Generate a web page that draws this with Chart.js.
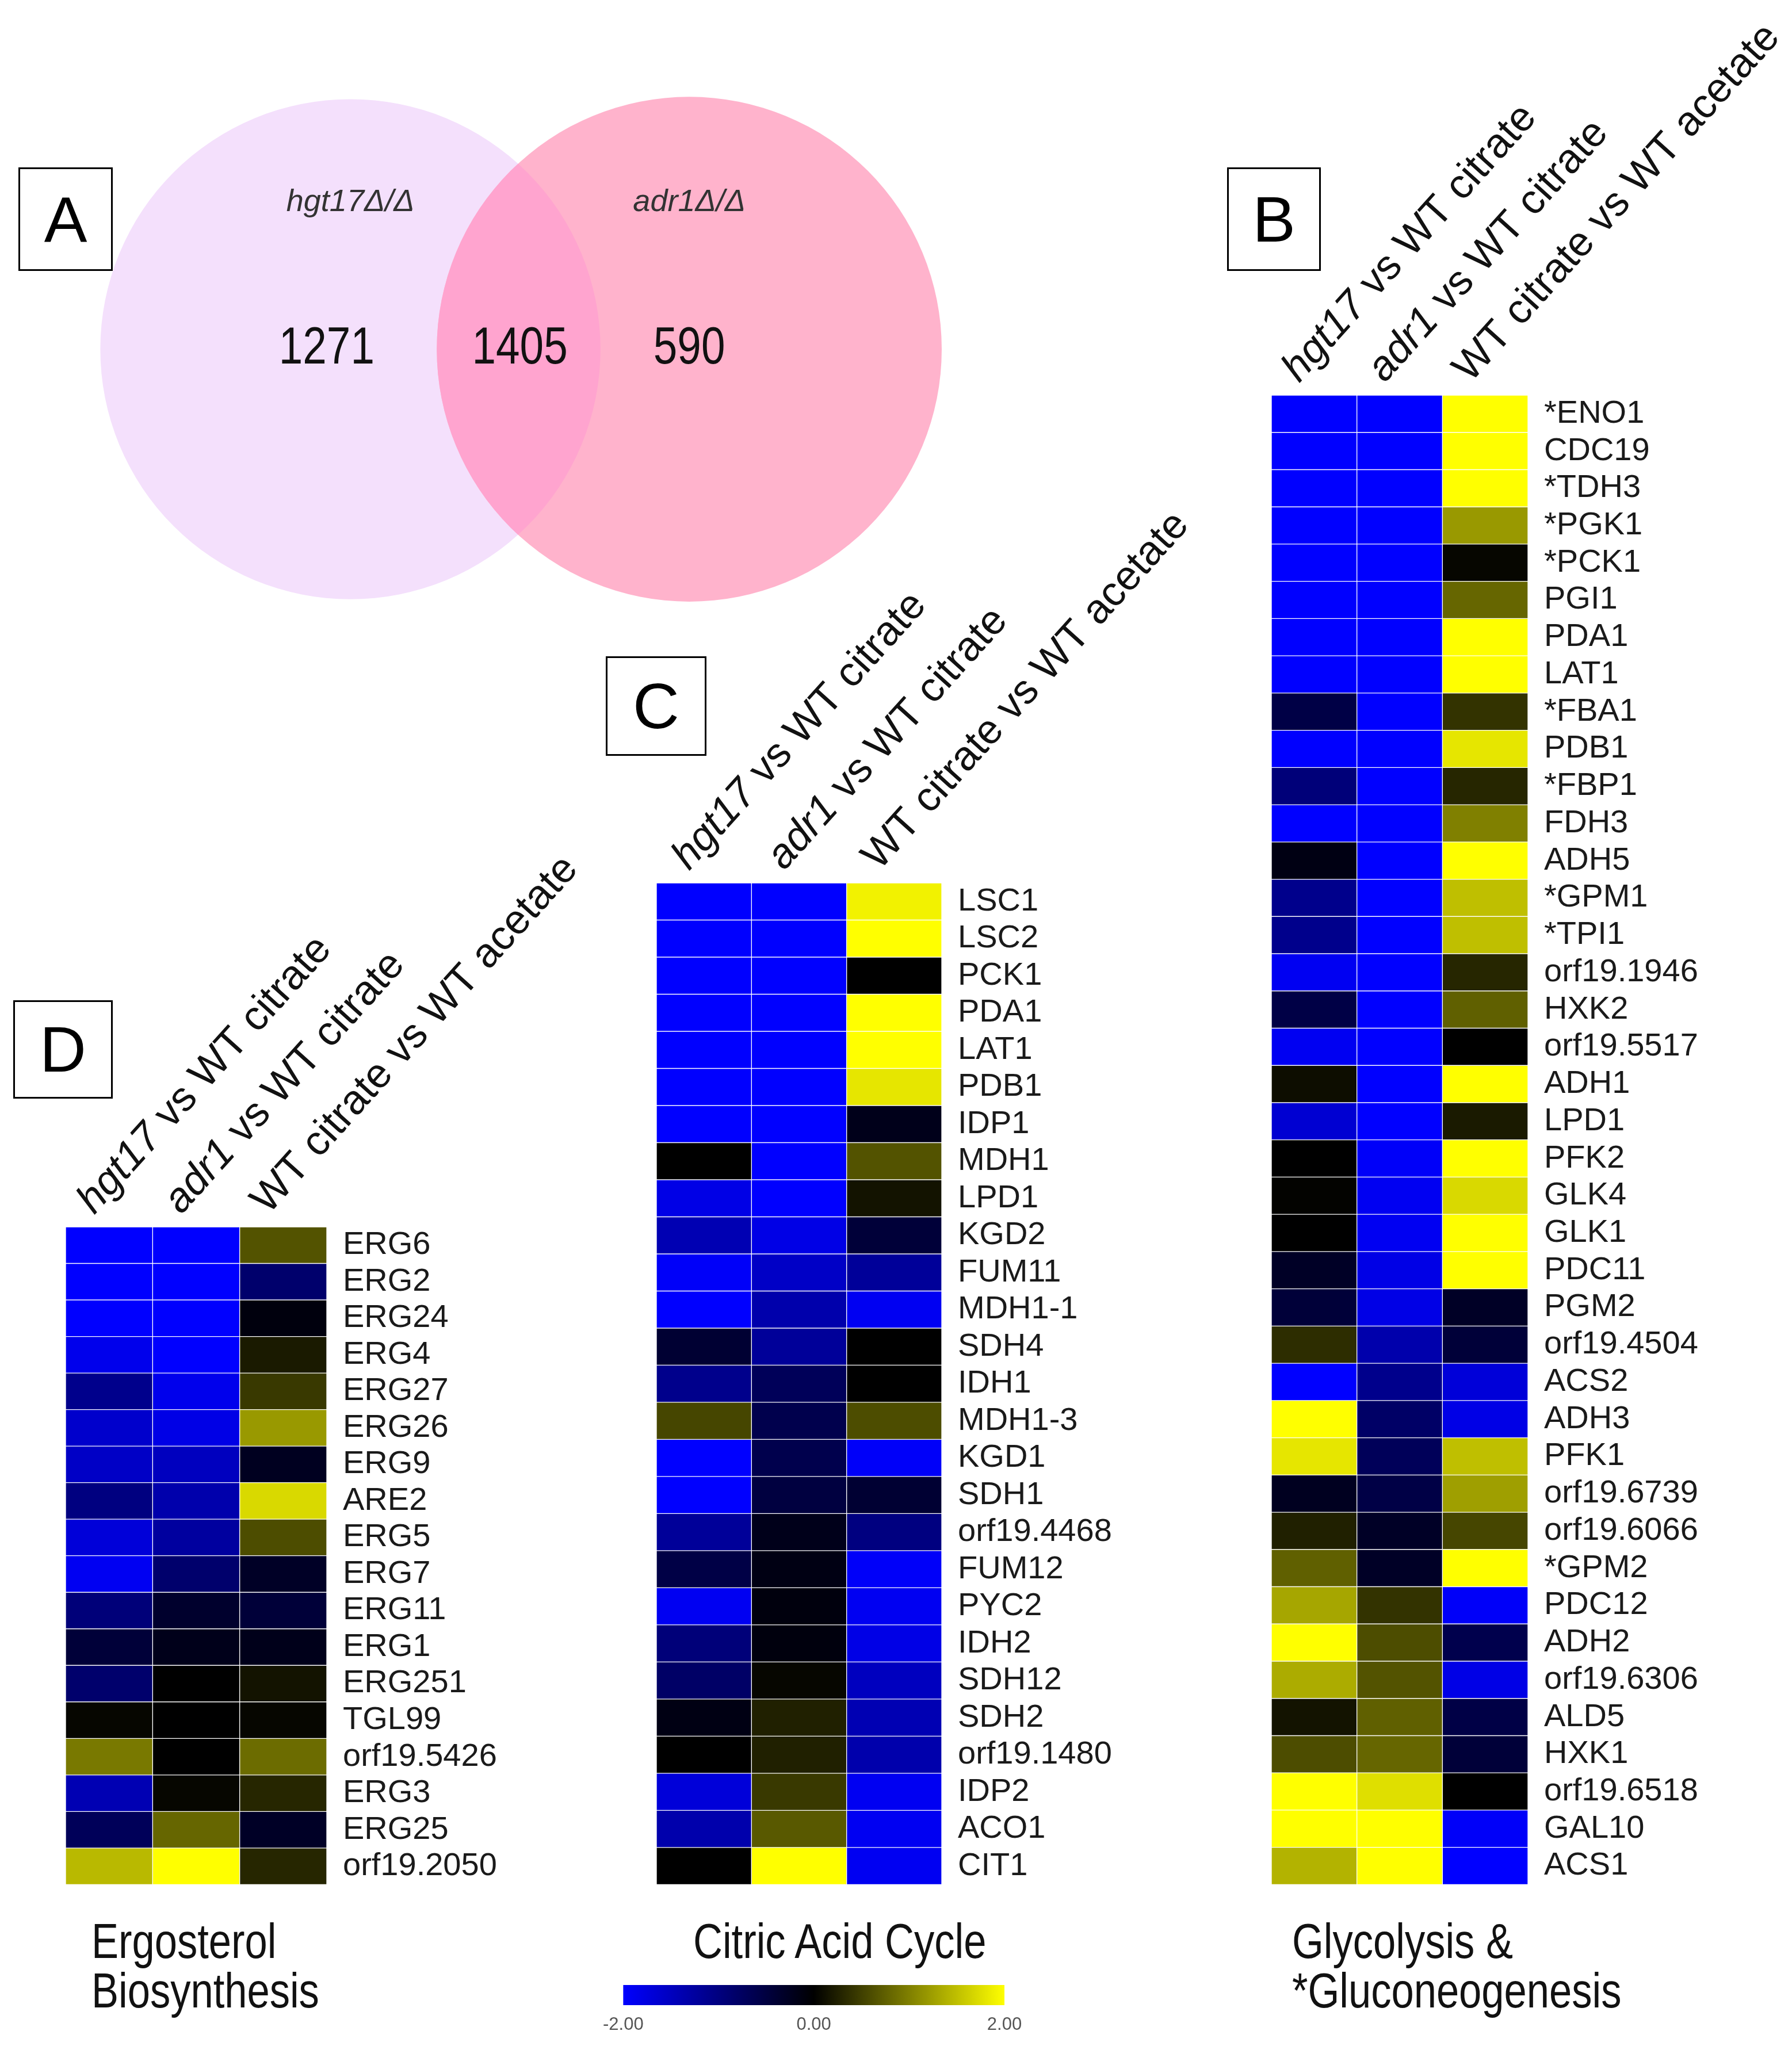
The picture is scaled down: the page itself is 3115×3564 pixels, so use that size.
<!DOCTYPE html>
<html lang="en">
<head>
<meta charset="UTF-8">
<title>Venn diagram and expression heatmaps</title>
<script src="https://cdn.jsdelivr.net/npm/chart.js@4"></script>
<style>
  body { margin:0; background:#fff; width:3115px; height:3564px; position:relative; overflow:hidden;
         font-family:"Liberation Sans", Arial, sans-serif; }
  canvas { position:absolute; }
  .tag { position:absolute; border:3px solid #000; background:#fff; font-size:112px; color:#000;
         display:flex; align-items:center; justify-content:center; box-sizing:border-box; }
  .title { position:absolute; font-size:86px; line-height:86px; white-space:nowrap; color:#111;
           transform:scaleX(0.82); transform-origin:left top; }
</style>
</head>
<body>

<canvas id="venn" style="left:0;top:0" width="1700" height="1100"></canvas>
<canvas id="ergChart" style="left:90px;top:1400px" width="960" height="1930"></canvas>
<canvas id="citChart" style="left:1120px;top:800px" width="1000" height="2530"></canvas>
<canvas id="glyChart" style="left:2190px;top:0" width="925" height="3330"></canvas>
<canvas id="scaleBar" style="left:1040px;top:3420px" width="760" height="140"></canvas>

<div class="tag" style="left:32px;top:291px;width:164px;height:180px">A</div>
<div class="tag" style="left:2133px;top:291px;width:163px;height:180px">B</div>
<div class="tag" style="left:1053px;top:1141px;width:175px;height:173px">C</div>
<div class="tag" style="left:23px;top:1739px;width:173px;height:171px">D</div>

<div class="title" style="left:159px;top:3331px">Ergosterol<br>Biosynthesis</div>
<div class="title" style="left:1151px;top:3331px;width:600px;text-align:center;transform-origin:center top">Citric Acid Cycle</div>
<div class="title" style="left:2246px;top:3331px">Glycolysis &amp;<br>*Gluconeogenesis</div>

<script>
const FONT = '"Liberation Sans", Arial, sans-serif';

// Venn (A)
const vennSets = ['hgt17Δ/Δ', 'adr1Δ/Δ'];
const vennCounts = [1271, 1405, 590];
const vennCenters = [0, 1];
const vennRadius = [0.738, 0.745];

// column headers shared by B, C, D
const colItalic = ['hgt17', 'adr1', ''];
const colRest = [' vs WT citrate', ' vs WT citrate', 'WT citrate vs WT acetate'];

// B - glycolysis & gluconeogenesis
const glyGenes = ['*ENO1','CDC19','*TDH3','*PGK1','*PCK1','PGI1','PDA1','LAT1','*FBA1','PDB1',
  '*FBP1','FDH3','ADH5','*GPM1','*TPI1','orf19.1946','HXK2','orf19.5517','ADH1','LPD1',
  'PFK2','GLK4','GLK1','PDC11','PGM2','orf19.4504','ACS2','ADH3','PFK1','orf19.6739',
  'orf19.6066','*GPM2','PDC12','ADH2','orf19.6306','ALD5','HXK1','orf19.6518','GAL10','ACS1'];
const glyHgt17 = [-2,-2,-2,-2,-2,-2,-2,-2,-0.55,-2, -0.95,-2,-0.15,-1.1,-1.1,-1.9,-0.55,-1.9,0.1,-1.65,
  0,0.02,0,-0.3,-0.45,0.35,-2,2,1.8,-0.25, 0.25,0.75,1.3,2,1.35,0.15,0.6,2,2,1.4];
const glyAdr1 = [-2,-2,-2,-2,-2,-2,-2,-2,-2,-2, -2,-2,-2,-2,-2,-2,-2,-2,-2,-2,
  -1.95,-1.9,-1.9,-1.8,-1.8,-1.35,-1.1,-0.8,-0.7,-0.55, -0.3,-0.3,0.4,0.6,0.65,0.75,0.8,1.75,2,2];
const glyWT = [2,2,2,1.2,0.05,0.8,2,2,0.4,1.8, 0.3,1.0,2,1.5,1.5,0.3,0.75,0,2,0.2,
  2,1.7,2,2,-0.3,-0.45,-1.7,-1.8,1.5,1.25, 0.55,2,-1.95,-0.6,-1.8,-0.55,-0.45,0,-1.95,-2];

// C - citric acid cycle
const citGenes = ['LSC1','LSC2','PCK1','PDA1','LAT1','PDB1','IDP1','MDH1','LPD1','KGD2',
  'FUM11','MDH1-1','SDH4','IDH1','MDH1-3','KGD1','SDH1','orf19.4468','FUM12','PYC2',
  'IDH2','SDH12','SDH2','orf19.1480','IDP2','ACO1','CIT1'];
const citHgt17 = [-2,-2,-2,-2,-2,-2,-2,0,-1.8,-1.4, -1.95,-2,-0.4,-1.1,0.55,-2,-2,-1.2,-0.55,-1.9,
  -0.95,-0.8,-0.15,0,-1.7,-1.35,0];
const citAdr1 = [-2,-2,-2,-2,-2,-2,-2,-2,-2,-1.8, -1.55,-1.35,-1.2,-0.7,-0.6,-0.6,-0.5,-0.2,-0.15,-0.1,
  -0.1,0.05,0.25,0.25,0.45,0.7,2];
const citWT = [1.9,2,0,2,2,1.8,-0.2,0.65,0.15,-0.45, -1.2,-1.9,0,0,0.6,-1.95,-0.4,-1.0,-1.95,-1.9,
  -1.8,-1.5,-1.4,-1.35,-1.9,-1.9,-1.9];

// D - ergosterol biosynthesis
const ergGenes = ['ERG6','ERG2','ERG24','ERG4','ERG27','ERG26','ERG9','ARE2','ERG5','ERG7',
  'ERG11','ERG1','ERG251','TGL99','orf19.5426','ERG3','ERG25','orf19.2050'];
const ergHgt17 = [-2,-2,-2,-1.85,-1.1,-1.6,-1.55,-1.0,-1.7,-1.9, -0.95,-0.45,-0.85,0.05,0.95,-1.4,-0.7,1.45];
const ergAdr1 = [-2,-2,-2,-2,-1.85,-1.8,-1.5,-1.35,-1.25,-0.85, -0.35,-0.2,0,0,0,0.05,0.8,2];
const ergWT = [0.65,-0.85,-0.1,0.2,0.45,1.2,-0.25,1.7,0.6,-0.3, -0.45,-0.2,0.15,0.05,0.85,0.3,-0.3,0.3];

// colour key
const scaleMin = -2, scaleMax = 2;
const scaleTicks = [-2, 0, 2];

// blue - black - yellow
function heatColor(v) {
  const t = Math.max(-1, Math.min(1, v / scaleMax));
  const k = Math.round(Math.abs(t) * 255);
  return t < 0 ? `rgb(0,0,${k})` : `rgb(${k},${k},0)`;
}

// ---------- Venn ----------
const vennOverlay = {
  id: 'vennOverlay',
  afterDatasetsDraw(chart) {
    const { ctx, scales: { x, y } } = chart;
    const px = v => x.getPixelForValue(v), py = v => y.getPixelForValue(v);
    const r0 = px(vennRadius[0]) - px(0), r1 = px(vennRadius[1]) - px(0);
    // overlap region
    ctx.save();
    ctx.beginPath(); ctx.arc(px(vennCenters[0]), py(0), r0, 0, Math.PI * 2); ctx.clip();
    ctx.beginPath(); ctx.arc(px(vennCenters[1]), py(0), r1, 0, Math.PI * 2);
    ctx.fillStyle = '#ffa4cf'; ctx.fill();
    ctx.restore();

    ctx.save();
    ctx.textAlign = 'center'; ctx.textBaseline = 'middle';
    ctx.fillStyle = '#333';
    ctx.font = `italic 54px ${FONT}`;
    vennSets.forEach((s, i) => ctx.fillText(s, px(vennCenters[i]), py(0.433)));
    ctx.fillStyle = '#111';
    ctx.font = `90px ${FONT}`;
    const countX = [-0.07, 0.5, 1.0];
    vennCounts.forEach((n, i) => {
      ctx.save();
      ctx.translate(px(countX[i]), py(0));
      ctx.scale(0.83, 1);
      ctx.fillText(String(n), 0, 0);
      ctx.restore();
    });
    ctx.restore();
  }
};

new Chart(document.getElementById('venn'), {
  type: 'scatter',
  data: {
    datasets: [{
      data: vennCenters.map(c => ({ x: c, y: 0 })),
      pointBackgroundColor: ['#f4e0fc', '#ffb3cc'],
      pointBorderWidth: 0,
      pointRadius: ctx => {
        const s = ctx.chart.scales.x;
        return Math.abs(s.getPixelForValue(vennRadius[ctx.dataIndex]) - s.getPixelForValue(0)) || 0;
      },
      showLine: false,
      clip: false
    }]
  },
  options: {
    responsive: false, animation: false,
    layout: { autoPadding: false, padding: 0 },
    plugins: { legend: { display: false }, tooltip: { enabled: false } },
    scales: {
      x: { type: 'linear', min: -1.034, max: 1.852, display: false },
      y: { type: 'linear', min: -0.837, max: 1.031, display: false }
    }
  },
  plugins: [vennOverlay]
});

// ---------- heatmaps ----------
const HEAD_ANGLE = 48;
const colHeads = {
  id: 'colHeads',
  afterDraw(chart) {
    const { ctx, chartArea, scales: { x } } = chart;
    ctx.save();
    ctx.fillStyle = '#111';
    ctx.textAlign = 'left'; ctx.textBaseline = 'alphabetic';
    colItalic.forEach((it, c) => {
      ctx.save();
      ctx.translate(x.getPixelForValue(c + 0.5) - 26, chartArea.top - 20);
      ctx.rotate(-HEAD_ANGLE * Math.PI / 180);
      let off = 0;
      if (it) {
        ctx.font = `italic 72px ${FONT}`;
        ctx.fillText(it, 0, 0);
        off = ctx.measureText(it).width;
      }
      ctx.font = `72px ${FONT}`;
      ctx.fillText(colRest[c], off, 0);
      ctx.restore();
    });
    ctx.restore();
  }
};

function heatmap(id, genes, cols, pad, axisW) {
  new Chart(document.getElementById(id), {
    type: 'bar',
    data: {
      labels: genes,
      datasets: cols.map(vals => ({
        data: genes.map(() => 1),
        backgroundColor: vals.map(heatColor),
        borderColor: 'rgba(255,255,255,0.08)',
        borderWidth: 1,
        borderSkipped: false,
        barPercentage: 1,
        categoryPercentage: 1
      }))
    },
    options: {
      indexAxis: 'y', responsive: false, animation: false,
      layout: { padding: pad },
      plugins: { legend: { display: false }, tooltip: { enabled: false } },
      scales: {
        x: { type: 'linear', stacked: true, min: 0, max: 3, display: false },
        y: {
          stacked: true, position: 'right',
          grid: { display: false }, border: { display: false },
          ticks: { autoSkip: false, color: '#1a1a1a', padding: 20, font: { family: FONT, size: 56 } },
          afterFit(s) { s.width = axisW; }
        }
      }
    },
    plugins: [colHeads]
  });
}

heatmap('ergChart', ergGenes, [ergHgt17, ergAdr1, ergWT], { left: 24, top: 733, bottom: 22, right: 0 }, 482);
heatmap('citChart', citGenes, [citHgt17, citAdr1, citWT], { left: 21, top: 735, bottom: 22, right: 0 }, 483);
heatmap('glyChart', glyGenes, [glyHgt17, glyAdr1, glyWT], { left: 20, top: 687, bottom: 22, right: 0 }, 459);

// ---------- colour key ----------
new Chart(document.getElementById('scaleBar'), {
  type: 'bar',
  data: {
    labels: [''],
    datasets: [{
      data: [[scaleMin, scaleMax]],
      barPercentage: 1, categoryPercentage: 1, borderWidth: 0,
      backgroundColor: ctx => {
        const area = ctx.chart.chartArea;
        if (!area) return '#000';
        const g = ctx.chart.ctx.createLinearGradient(area.left, 0, area.right, 0);
        g.addColorStop(0, heatColor(scaleMin));
        g.addColorStop(0.5, heatColor(0));
        g.addColorStop(1, heatColor(scaleMax));
        return g;
      }
    }]
  },
  options: {
    indexAxis: 'y', responsive: false, animation: false,
    layout: { padding: { left: 42, right: 54, top: 31, bottom: 0 } },
    plugins: { legend: { display: false }, tooltip: { enabled: false } },
    scales: {
      x: {
        type: 'linear', min: scaleMin, max: scaleMax,
        grid: { display: false }, border: { display: false },
        afterBuildTicks(s) { s.ticks = scaleTicks.map(v => ({ value: v })); },
        ticks: { callback: v => Number(v).toFixed(2), color: '#555', padding: 8, maxRotation: 0,
                 font: { family: FONT, size: 31 } },
        afterFit(s) { s.height = 74; }
      },
      y: { display: false }
    }
  }
});
</script>
</body>
</html>
